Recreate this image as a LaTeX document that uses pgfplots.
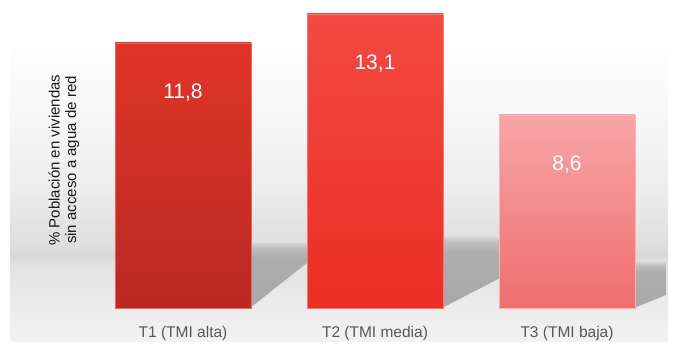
\documentclass[border=0pt]{standalone}
\usepackage{fontspec}
\setmainfont{Liberation Sans}
\usepackage{pgfplots}
\pgfplotsset{compat=1.18}

\definecolor{tOneTop}{RGB}{223,53,39}
\definecolor{tOneBot}{RGB}{186,41,36}
\definecolor{tTwoTop}{RGB}{241,74,67}
\definecolor{tTwoBot}{RGB}{236,46,35}
\definecolor{tThrTop}{RGB}{247,166,167}
\definecolor{tThrBot}{RGB}{240,110,110}
\definecolor{tickgray}{RGB}{88,88,88}
\definecolor{labelblack}{RGB}{25,25,25}

\definecolor{bg0}{gray}{0.953}
\definecolor{bg1}{gray}{0.925}
\definecolor{bg2}{gray}{0.89}
\definecolor{bg3}{gray}{0.845}
\definecolor{bg4}{gray}{0.87}
\definecolor{bg5}{gray}{0.925}
\definecolor{bg6}{gray}{0.972}
\pgfdeclareverticalshading{bgshade}{100bp}{color(0bp)=(bg0); color(25bp)=(bg0); color(30.13bp)=(bg1); color(37.34bp)=(bg2); color(38.94bp)=(bg3); color(40.55bp)=(bg4); color(49.04bp)=(bg5); color(61.87bp)=(bg6); color(75bp)=(white); color(100bp)=(white)}

\definecolor{sh0}{gray}{0.66}
\definecolor{sh1}{gray}{0.68}
\definecolor{sh2}{gray}{0.74}
\definecolor{sh3}{gray}{0.83}
\pgfdeclareverticalshading{shadowshade}{100bp}{color(0bp)=(sh0); color(25bp)=(sh0); color(64bp)=(sh1); color(71bp)=(sh2); color(75bp)=(sh3); color(100bp)=(sh3)}

\pgfplotsset{
  mybar/.style={ybar, bar width=0.7083, bar shift=0pt, line width=0.5bp},
}

\begin{document}
\begin{tikzpicture}
\begin{scope}[x=1bp,y=1bp]
  \shade[shading=bgshade] (10,3) rectangle (668,315);
  \shade[shading=shadowshade] (250,102) -- (308,102) -- (308,83) -- (250,37) -- cycle;
  \shade[shading=shadowshade] (442,108) -- (500,108) -- (500,67) -- (442,37) -- cycle;
  \shade[shading=shadowshade] (634,83) -- (666,83) -- (666,50) -- (634,37) -- cycle;
\end{scope}
\begin{axis}[
  name=ax, at={(0,0)}, anchor=south west,
  scale only axis, width=680bp, height=345bp,
  xmin=-0.953125, xmax=2.588542,
  ymin=-1.6474, ymax=13.7133,
  axis line style={draw=none}, tick style={draw=none},
  ytick=\empty, xtick={0,1,2},
  xticklabels={T1 (TMI alta),T2 (TMI media),T3 (TMI baja)},
  xticklabel style={anchor=base, yshift=8bp, font=\fontsize{15.5bp}{18bp}\selectfont, text=tickgray},
  ylabel={\% Población en viviendas\\sin acceso a agua de red},
  every axis y label/.style={at={(rel axis cs:0.0941,0.536)}, rotate=90, anchor=center, align=center, font=\fontsize{15bp}{16.5bp}\selectfont, text=labelblack},
  clip=false,
  /pgf/number format/.cd, use comma, fixed, fixed zerofill, precision=1, assume math mode=true, /pgfplots/.cd,
  nodes near coords,
  every node near coord/.append style={anchor=base, yshift=-56bp, text=white, font=\fontsize{21bp}{24bp}\selectfont},
]
\addplot[mybar, draw=tOneTop!75!white, top color=tOneTop, bottom color=tOneBot] coordinates {(0,11.8)};
\addplot[mybar, draw=tTwoTop!75!white, top color=tTwoTop, bottom color=tTwoBot] coordinates {(1,13.1)};
\addplot[mybar, draw=tThrTop!85!white, top color=tThrTop, bottom color=tThrBot] coordinates {(2,8.6)};
\end{axis}
\pgfresetboundingbox
\useasboundingbox (0,0) rectangle (680bp,345bp);
\end{tikzpicture}
\end{document}
